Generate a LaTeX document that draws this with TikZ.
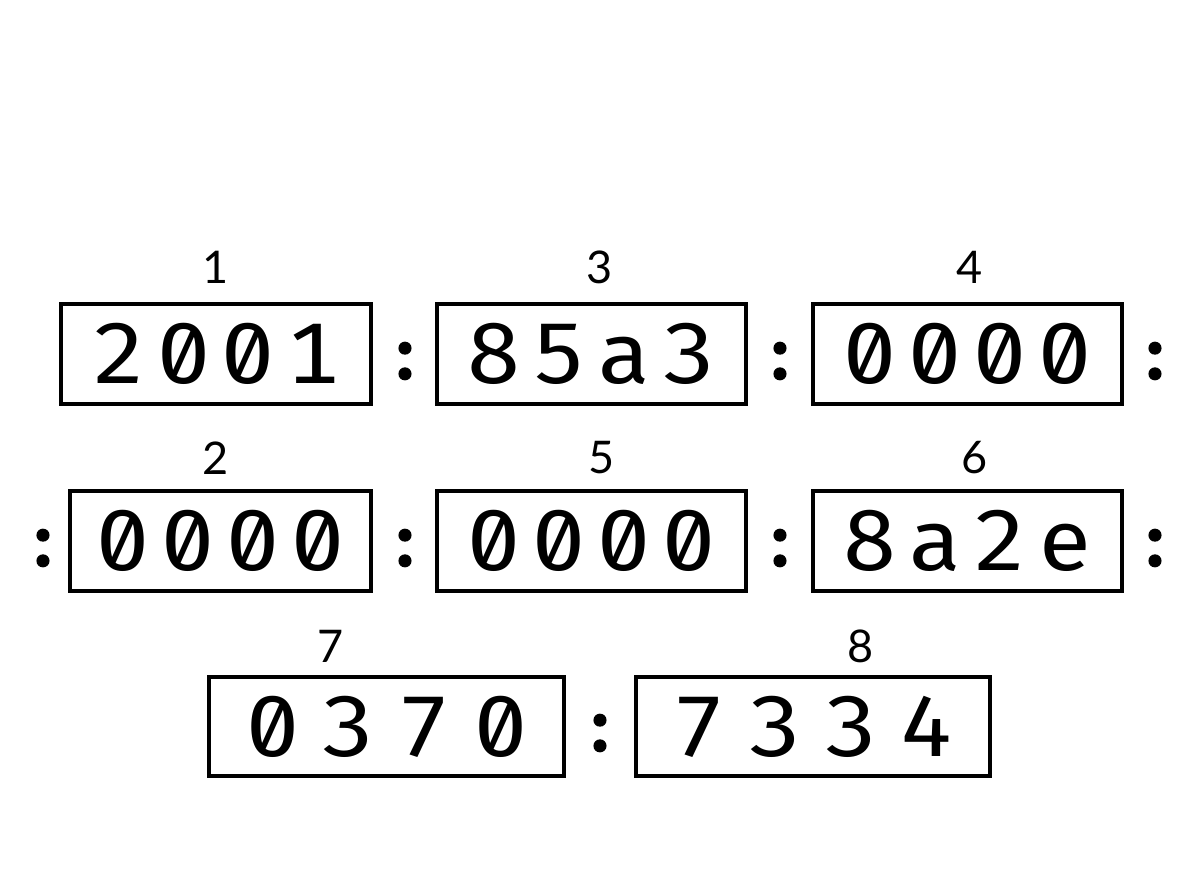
\documentclass[tikz,border=0pt]{standalone}
\usepackage{fontspec}
\setmainfont{Lato}
\newfontfamily\digfont{Fira Sans}[Numbers={SlashedZero,Monospaced},FakeStretch=1.1]
\newfontfamily\colonfont{Lato}[FakeBold=3]
\newcommand\dg[1]{\makebox[65pt]{#1}}
\newcommand\dgw[1]{\makebox[76pt]{#1}}
\begin{document}
\begin{tikzpicture}[x=1pt,y=-1pt,
  field/.style={draw,line width=3.6pt,minimum height=100pt,inner sep=0pt,
    font=\digfont\fontsize{86}{86}\selectfont},
  idx/.style={font=\fontsize{45}{45}\selectfont,inner sep=0pt},
  sep/.style={font=\colonfont\bfseries\fontsize{72}{72}\selectfont,inner sep=0pt}]
\useasboundingbox[fill=white] (0,0) rectangle (1200,896);
% row 1
\node[field,minimum width=310pt] (b1) at (216,354) {\dg2\dg0\dg0\dg1};
\node[field,minimum width=309pt] (b3) at (591.5,354) {\dg8\dg5\dg a\dg3};
\node[field,minimum width=309pt] (b4) at (967.5,354) {\dg0\dg0\dg0\dg0};
\node[idx] (l1) at (216,267) {1};
\node[idx] (l3) at (600,267) {3};
\node[idx] (l4) at (970,267) {4};
\node[sep] (c11) at (405,361) {:};
\node[sep] (c12) at (780,361) {:};
\node[sep] (c13) at (1155,361) {:};
% row 2
\node[field,minimum width=301pt] (b2) at (220.5,541) {\dg0\dg0\dg0\dg0};
\node[field,minimum width=309pt] (b5) at (591.5,541) {\dg0\dg0\dg0\dg0};
\node[field,minimum width=309pt] (b6) at (967.5,541) {\dg8\dg a\dg2\dg e};
\node[idx] (l2) at (216,458) {2};
\node[idx] (l5) at (602,458) {5};
\node[idx] (l6) at (975,458) {6};
\node[sep] (c20) at (43,548) {:};
\node[sep] (c21) at (405,548) {:};
\node[sep] (c22) at (780,548) {:};
\node[sep] (c23) at (1155,548) {:};
% row 3
\node[field,minimum width=355pt,minimum height=99pt] (b7) at (386.5,726.5) {\dgw0\dgw3\dgw7\dgw0};
\node[field,minimum width=354pt,minimum height=99pt] (b8) at (813,726.5) {\dgw7\dgw3\dgw3\dgw4};
\node[idx] (l7) at (331,646) {7};
\node[idx] (l8) at (861,646) {8};
\node[sep] (c31) at (600,733) {:};
\end{tikzpicture}
\end{document}
